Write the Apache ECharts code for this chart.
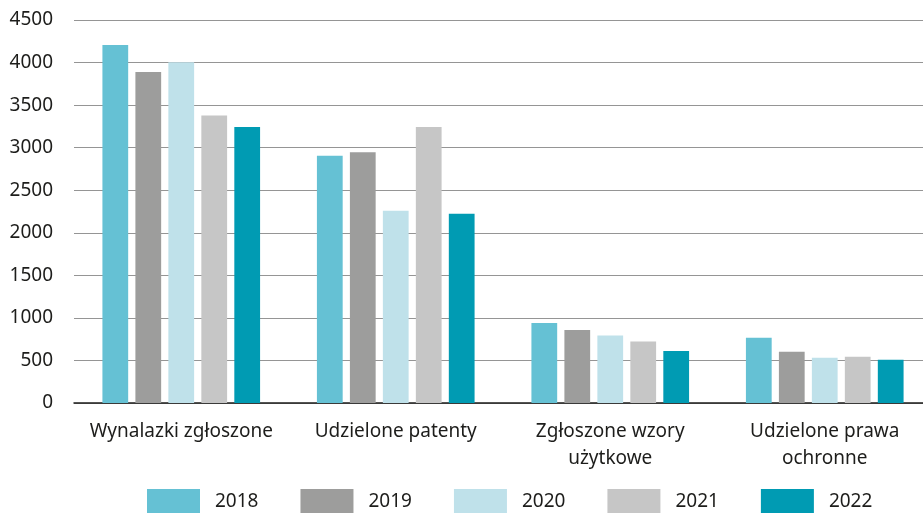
<!DOCTYPE html>
<html>
<head>
<meta charset="utf-8">
<script src="https://cdn.jsdelivr.net/npm/echarts@6/dist/echarts.min.js"></script>
<style>
  html, body { margin: 0; padding: 0; background: #fff; overflow: hidden; }
  #chart { width: 940px; height: 513px; }
</style>
</head>
<body>
<div id="chart"></div>
<script>
// kategorie i dane
const categories = ['Wynalazki zgłoszone', 'Udzielone patenty', 'Zgłoszone wzory\nużytkowe', 'Udzielone prawa\nochronne'];
const years = ['2018', '2019', '2020', '2021', '2022'];
const values2018 = [4205, 2904, 939, 767];
const values2019 = [3890, 2946, 857, 602];
const values2020 = [4005, 2258, 794, 532];
const values2021 = [3377, 3244, 723, 544];
const values2022 = [3244, 2223, 610, 508];
const yTicks = [0, 500, 1000, 1500, 2000, 2500, 3000, 3500, 4000, 4500];

const colors = ['#65c1d4', '#9d9d9c', '#bfe1ea', '#c6c6c6', '#009bb3'];
const allValues = [values2018, values2019, values2020, values2021, values2022];
const font = '"Noto Sans", sans-serif';

const chart = echarts.init(document.getElementById('chart'));

// wykres jest nieco szerszy niż okno - prawy brzeg siatki wychodzi poza kadr
const option = {
    animation: false,
    color: colors,
    grid: {
        left: 74,
        width: 858,
        top: 20,
        bottom: 110,
        containLabel: false
    },
    legend: {
        data: years,
        left: 142,
        top: 484,
        itemWidth: 53,
        itemHeight: 25,
        itemGap: 42,
        icon: 'rect',
        textStyle: {
            fontFamily: font,
            fontSize: 19,
            color: '#1d1d1b',
            padding: [0, 0, 0, 10]
        }
    },
    xAxis: {
        type: 'category',
        data: categories,
        axisLine: { show: true, lineStyle: { color: '#1d1d1b', width: 1.5 } },
        axisTick: { show: false },
        axisLabel: {
            fontFamily: font,
            fontSize: 19,
            color: '#1d1d1b',
            lineHeight: 27,
            margin: 15,
            interval: 0
        }
    },
    yAxis: {
        type: 'value',
        min: yTicks[0],
        max: yTicks[yTicks.length - 1],
        interval: 500,
        axisLine: { show: false },
        axisTick: { show: false },
        axisLabel: {
            fontFamily: font,
            fontSize: 19,
            color: '#1d1d1b',
            margin: 21,
            formatter: v => String(v)
        },
        splitLine: { lineStyle: { color: '#959595', width: 1 } }
    },
    series: years.map((y, i) => ({
        name: y,
        type: 'bar',
        data: allValues[i],
        barGap: '28%',
        barCategoryGap: '26.5%',
        itemStyle: { color: colors[i] }
    }))
};

chart.setOption(option);
</script>
</body>
</html>
